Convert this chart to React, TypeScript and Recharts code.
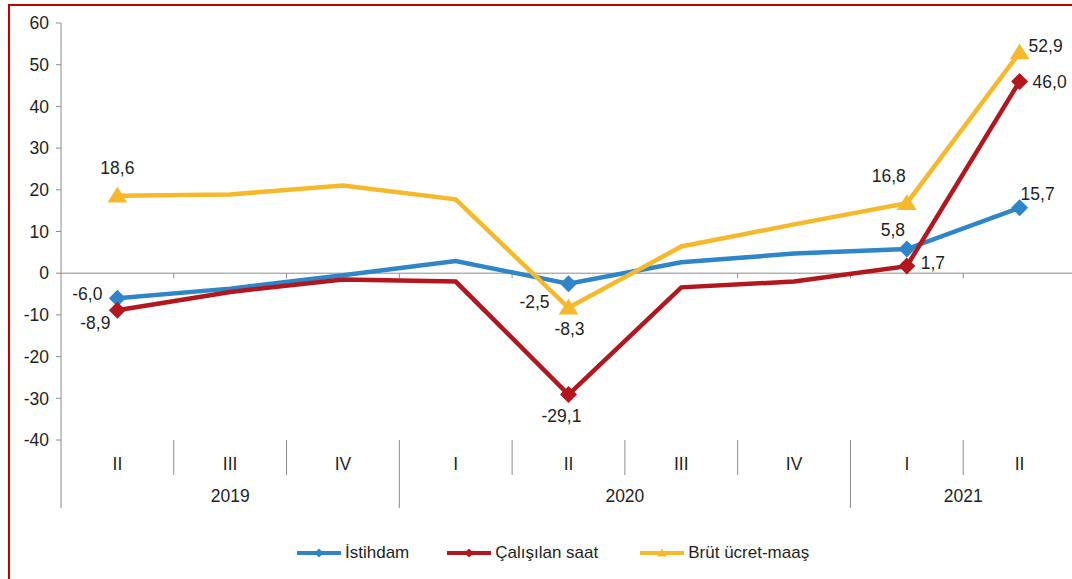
import React from "react";
import { Line, LineChart, ReferenceLine, XAxis, YAxis } from "recharts";

// quarters shown on the category axis, grouped by year below
const quarters = ["II", "III", "IV", "I", "II", "III", "IV", "I", "II"];
const yearLabels = ["2019", "2020", "2021"];
const yearSpans = [3, 4, 2];

// annual change, %
const istihdam = [-6.0, -3.7, -0.5, 2.9, -2.5, 2.6, 4.7, 5.8, 15.7];
const calisilanSaat = [-8.9, -4.5, -1.5, -2.0, -29.1, -3.4, -2.0, 1.7, 46.0];
const brutUcret = [18.6, 18.9, 21.0, 17.7, -8.3, 6.4, 11.7, 16.8, 52.9];

// points that carry a marker and a value label
const labeledPoints = [0, 4, 7, 8];

const yTicks = [-40, -30, -20, -10, 0, 10, 20, 30, 40, 50, 60];

const data = quarters.map((q, i) => ({
  q,
  istihdam: istihdam[i],
  saat: calisilanSaat[i],
  ucret: brutUcret[i],
}));

const CHART_W = 1076;
const CHART_H = 579;
const Y_AXIS_W = 61;
const TOP = 23;
const X_AXIS_H = 139;
const PLOT_W = CHART_W - Y_AXIS_W;
const BAND = PLOT_W / quarters.length;
const PLOT_BOTTOM = CHART_H - X_AXIS_H;

const FONT = '"Liberation Sans", Arial, sans-serif';
const FS = 17.5;
const TEXT = "#1f1f1f";
const AXIS = "#8c8c8c";

const series = [
  { key: "istihdam", name: "İstihdam", color: "#2e86c8", shape: "diamond" },
  { key: "saat", name: "Çalışılan saat", color: "#b3161d", shape: "diamond" },
  { key: "ucret", name: "Brüt ücret-maaş", color: "#f6b92c", shape: "triangle" },
];

// label placement relative to the point, per series, per labelled index
const labelOffsets: Record<string, Record<number, [number, number]>> = {
  istihdam: { 0: [-30, -4], 4: [-34, 18], 7: [-14, -19], 8: [18, -14] },
  saat: { 0: [-22, 13], 4: [-7, 21], 7: [26, -3], 8: [30, 1] },
  ucret: { 0: [0, -28], 4: [1, 21], 7: [-18, -27], 8: [26, -7] },
};

const fmt = (v: number) => v.toFixed(1).replace(".", ",");

function Marker({ cx, cy, color, shape, r }: any) {
  if (shape === "triangle") {
    return (
      <polygon
        points={`${cx},${cy - r} ${cx + r * 1.1},${cy + r * 0.75} ${cx - r * 1.1},${cy + r * 0.75}`}
        fill={color}
      />
    );
  }
  return <polygon points={`${cx},${cy - r} ${cx + r},${cy} ${cx},${cy + r} ${cx - r},${cy}`} fill={color} />;
}

function makeDot(color: string, shape: string) {
  return (props: any) => {
    const { cx, cy, index } = props;
    if (!labeledPoints.includes(index)) return <g key={`d${index}`} />;
    return (
      <g key={`d${index}`}>
        <Marker cx={cx} cy={cy} color={color} shape={shape} r={shape === "triangle" ? 9 : 8.5} />
      </g>
    );
  };
}

function makeLabel(key: string) {
  return (props: any) => {
    const { x, y, index, value } = props;
    if (!labeledPoints.includes(index)) return <g key={`l${index}`} />;
    const [dx, dy] = labelOffsets[key][index];
    return (
      <text
        key={`l${index}`}
        x={x + dx}
        y={y + dy}
        textAnchor="middle"
        dominantBaseline="central"
        fontSize={FS}
        fontFamily={FONT}
        fill={TEXT}
      >
        {fmt(value)}
      </text>
    );
  };
}

function QuarterTick(props: any) {
  const { x, payload } = props;
  const index = props.index ?? payload.index;
  const half = BAND / 2;
  const yearEnds: number[] = [];
  let acc = 0;
  yearSpans.forEach((s) => {
    acc += s;
    yearEnds.push(acc - 1);
  });
  const isYearEnd = yearEnds.includes(index);
  const isLast = index === quarters.length - 1;
  let yearIdx = -1;
  let start = 0;
  yearSpans.forEach((s, k) => {
    if (start === index) yearIdx = k;
    start += s;
  });
  return (
    <g>
      {index === 0 && <line x1={x - half} x2={x - half} y1={PLOT_BOTTOM} y2={PLOT_BOTTOM + 68} stroke={AXIS} />}
      {!isLast && (
        <line
          x1={x + half}
          x2={x + half}
          y1={PLOT_BOTTOM}
          y2={PLOT_BOTTOM + (isYearEnd ? 68 : 35)}
          stroke={AXIS}
        />
      )}
      <text
        x={x}
        y={PLOT_BOTTOM + 24}
        textAnchor="middle"
        dominantBaseline="central"
        fontSize={FS}
        fontFamily={FONT}
        fill={TEXT}
      >
        {payload.value}
      </text>
      {yearIdx >= 0 && (
        <text
          x={x - half + (yearSpans[yearIdx] * BAND) / 2}
          y={PLOT_BOTTOM + 56}
          textAnchor="middle"
          dominantBaseline="central"
          fontSize={FS}
          fontFamily={FONT}
          fill={TEXT}
        >
          {yearLabels[yearIdx]}
        </text>
      )}
    </g>
  );
}

function ZeroLine(props: any) {
  const { x1, x2, y1 } = props;
  const step = (x2 - x1) / quarters.length;
  return (
    <g>
      <line x1={x1} x2={x2} y1={y1} y2={y1} stroke={AXIS} strokeWidth={1} />
      {quarters.slice(1).map((_, k) => (
        <line key={k} x1={x1 + step * (k + 1)} x2={x1 + step * (k + 1)} y1={y1} y2={y1 + 5} stroke={AXIS} />
      ))}
    </g>
  );
}

function LegendRow() {
  return (
    <div
      style={{
        position: "absolute",
        top: 543,
        left: 297,
        display: "flex",
        alignItems: "center",
        fontFamily: FONT,
        fontSize: 17,
        color: TEXT,
        height: 20,
      }}
    >
      {series.map((s, i) => (
        <div key={s.key} style={{ display: "flex", alignItems: "center", marginRight: i === 0 ? 38 : 42 }}>
          <svg width={44} height={14}>
            <line x1={0} x2={44} y1={7} y2={7} stroke={s.color} strokeWidth={4} />
            <Marker cx={22} cy={7} color={s.color} shape={s.shape} r={4.5} />
          </svg>
          <span style={{ marginLeft: 4 }}>{s.name}</span>
        </div>
      ))}
    </div>
  );
}

export default function App() {
  return (
    <div
      style={{
        position: "absolute",
        left: 0,
        top: 0,
        width: 1072,
        height: 579,
        overflow: "hidden",
        background: "#fff",
      }}
    >
      <div
        style={{
          position: "absolute",
          left: 8,
          top: 4,
          width: 1100,
          height: 600,
          borderLeft: "2px solid #c00000",
          borderTop: "2px solid #c00000",
        }}
      />
      <div style={{ position: "absolute", left: 0, top: 0 }}>
        <LineChart width={CHART_W} height={CHART_H} data={data} margin={{ top: TOP, right: 0, bottom: 0, left: 0 }}>
          <XAxis
            dataKey="q"
            height={X_AXIS_H}
            axisLine={false}
            tickLine={false}
            interval={0}
            padding={{ left: BAND / 2, right: BAND / 2 }}
            tick={<QuarterTick />}
          />
          <YAxis
            width={Y_AXIS_W}
            domain={[-40, 60]}
            ticks={yTicks}
            interval={0}
            stroke={AXIS}
            tickSize={5}
            tickMargin={7}
            tick={{ fontSize: FS, fontFamily: FONT, fill: TEXT }}
          />
          <ReferenceLine y={0} shape={<ZeroLine />} />
          {series.map((s) => (
            <Line
              key={s.key}
              dataKey={s.key}
              name={s.name}
              stroke={s.color}
              strokeWidth={4.5}
              type="linear"
              dot={makeDot(s.color, s.shape)}
              activeDot={false}
              label={makeLabel(s.key)}
              isAnimationActive={false}
            />
          ))}
        </LineChart>
      </div>
      <LegendRow />
    </div>
  );
}
